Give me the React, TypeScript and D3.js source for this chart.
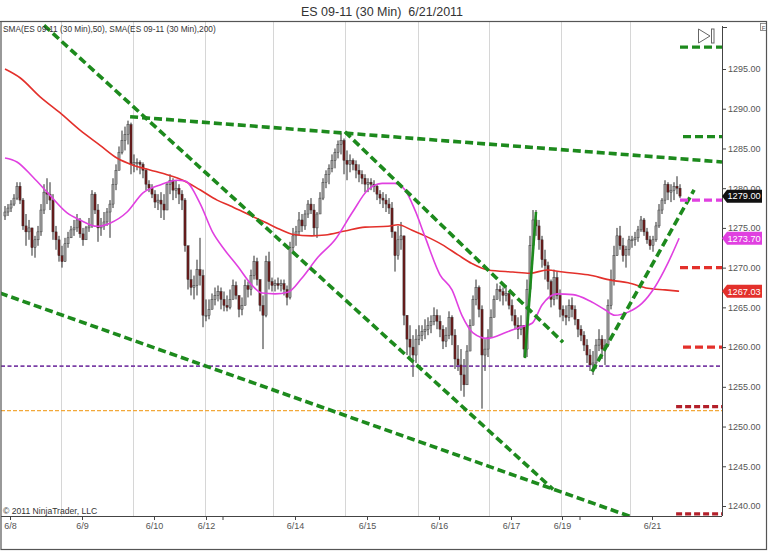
import React, { useEffect, useRef } from 'react'
import * as d3 from 'd3'

const W = 768
const H = 551

const title = 'ES 09-11 (30 Min)  6/21/2011'
const legendText = 'SMA(ES 09-11 (30 Min),50), SMA(ES 09-11 (30 Min),200)'
const copyright = '© 2011 NinjaTrader, LLC'

// price bars (one every bar index), open = previous close
const firstOpen = 1276.5
const closes = [
  1277.0, 1277.5, 1278.0, 1278.75, 1280.25, 1278.5, 1275.25, 1274.5, 1275.0, 1272.5,
  1273.5, 1274.5, 1277.25, 1279.5, 1279.25, 1278.5, 1274.5, 1273.5, 1271.5, 1270.75,
  1273.0, 1273.75, 1274.75, 1275.0, 1276.0, 1274.25, 1273.5, 1275.0, 1275.25, 1279.25,
  1277.25, 1275.0, 1275.25, 1275.75, 1277.0, 1278.0, 1280.5, 1282.25, 1284.5, 1286.0,
  1286.75, 1288.0, 1283.0, 1283.25, 1283.25, 1283.0, 1282.25, 1280.5, 1280.0, 1279.25,
  1278.25, 1278.5, 1278.0, 1277.25, 1280.5, 1281.0, 1279.75, 1280.0, 1279.25, 1278.5,
  1272.75, 1268.5, 1267.5, 1267.75, 1269.75, 1269.0, 1264.0, 1264.0, 1264.75, 1266.0,
  1266.5, 1267.0, 1266.0, 1265.25, 1265.0, 1266.0, 1267.75, 1266.5, 1264.75, 1265.25,
  1267.75, 1267.25, 1269.0, 1270.75, 1268.5, 1265.25, 1264.0, 1270.75, 1268.25, 1267.75,
  1268.0, 1267.75, 1268.0, 1267.25, 1266.25, 1272.5, 1274.0, 1274.5, 1276.0, 1275.25,
  1276.75, 1278.0, 1277.25, 1275.0, 1276.75, 1278.75, 1280.75, 1281.75, 1282.5, 1283.5,
  1284.5, 1285.5, 1286.0, 1283.5, 1283.0, 1283.5, 1283.0, 1282.25, 1281.75, 1281.25,
  1280.5, 1280.75, 1280.5, 1280.25, 1279.25, 1278.75, 1278.5, 1278.0, 1277.5, 1274.5,
  1271.5, 1273.5, 1274.0, 1264.0, 1261.0, 1260.0, 1259.0, 1261.0, 1261.5, 1262.0,
  1262.25, 1262.75, 1263.25, 1264.0, 1263.25, 1262.25, 1260.75, 1261.5, 1263.75, 1261.5,
  1258.5, 1257.75, 1256.5, 1255.25, 1259.5, 1262.75, 1266.0, 1267.5, 1264.75, 1259.0,
  1259.75, 1261.25, 1263.75, 1266.0, 1267.25, 1267.0, 1266.5, 1266.75, 1265.25, 1264.0,
  1262.75, 1262.25, 1262.75, 1259.75, 1267.25, 1272.75, 1276.0, 1275.25, 1273.5, 1271.0,
  1270.25, 1268.25, 1266.0, 1268.75, 1266.5, 1264.75, 1264.0, 1263.75, 1265.25, 1264.75,
  1263.5, 1262.25, 1261.5, 1260.25, 1259.0, 1257.75, 1258.0, 1260.25, 1261.0, 1259.75,
  1260.25, 1265.25, 1268.5, 1271.5, 1274.0, 1272.75, 1271.5, 1272.25, 1273.5, 1273.5,
  1273.75, 1274.75, 1276.0, 1274.5, 1273.5, 1272.75, 1273.5, 1275.25, 1277.25, 1278.5,
  1280.5, 1279.5, 1279.75, 1280.25, 1280.0, 1279.0,
]
const highs = [
  1277.75, 1278.0, 1278.5, 1279.25, 1280.75, 1280.75, 1278.75, 1276.75, 1276.0, 1275.0,
  1274.0, 1275.25, 1278.0, 1280.5, 1281.25, 1280.75, 1279.25, 1275.25, 1274.0, 1272.75,
  1273.75, 1274.5, 1275.25, 1276.0, 1276.75, 1276.25, 1275.0, 1275.25, 1276.25, 1279.75,
  1279.5, 1278.0, 1276.25, 1277.0, 1277.5, 1278.5, 1281.25, 1283.0, 1285.25, 1287.25,
  1287.75, 1288.5, 1288.25, 1284.25, 1283.75, 1283.5, 1283.25, 1282.5, 1281.0, 1280.5,
  1279.75, 1279.25, 1279.5, 1279.25, 1280.75, 1281.75, 1281.25, 1281.0, 1280.5, 1279.75,
  1278.75, 1272.75, 1269.75, 1269.0, 1271.0, 1273.75, 1269.75, 1266.0, 1266.0, 1266.75,
  1267.5, 1267.75, 1267.5, 1267.0, 1266.5, 1267.25, 1268.5, 1268.25, 1266.5, 1266.25,
  1268.5, 1268.25, 1269.75, 1271.5, 1271.25, 1267.75, 1266.5, 1271.5, 1272.0, 1268.75,
  1268.5, 1268.75, 1268.5, 1268.5, 1267.75, 1273.25, 1275.0, 1275.25, 1277.0, 1276.75,
  1277.25, 1278.5, 1278.75, 1278.0, 1277.0, 1279.5, 1281.25, 1282.25, 1283.0, 1284.25,
  1285.0, 1286.0, 1287.0, 1286.25, 1284.75, 1284.25, 1283.75, 1283.5, 1283.0, 1282.25,
  1281.75, 1281.25, 1281.25, 1281.0, 1280.5, 1279.75, 1279.5, 1279.25, 1278.75, 1278.25,
  1274.5, 1275.25, 1275.75, 1274.0, 1264.0, 1262.75, 1261.5, 1262.25, 1262.75, 1262.75,
  1263.5, 1263.75, 1264.0, 1265.0, 1264.75, 1264.0, 1262.75, 1262.5, 1264.5, 1264.0,
  1262.25, 1260.25, 1259.75, 1258.5, 1260.25, 1263.5, 1266.5, 1268.5, 1267.75, 1265.25,
  1261.0, 1262.25, 1264.75, 1266.5, 1268.0, 1267.75, 1267.5, 1267.75, 1267.0, 1266.0,
  1264.75, 1263.75, 1264.0, 1261.5, 1268.5, 1274.0, 1277.25, 1277.25, 1276.0, 1274.0,
  1272.25, 1270.75, 1268.5, 1269.75, 1269.5, 1267.25, 1265.25, 1265.25, 1266.0, 1266.25,
  1265.25, 1263.5, 1262.75, 1262.0, 1261.0, 1259.75, 1259.5, 1261.0, 1262.25, 1261.5,
  1261.0, 1266.0, 1269.75, 1272.75, 1275.0, 1275.25, 1273.75, 1272.75, 1274.0, 1274.0,
  1274.5, 1275.25, 1276.5, 1276.25, 1275.0, 1274.0, 1274.0, 1275.75, 1278.0, 1278.75,
  1281.0, 1280.75, 1280.5, 1280.75, 1281.5, 1280.5,
]
const lows = [
  1276.0, 1276.5, 1277.0, 1277.75, 1278.5, 1278.0, 1274.75, 1272.75, 1273.5, 1271.5,
  1271.25, 1272.75, 1274.0, 1276.75, 1278.0, 1277.25, 1273.5, 1272.25, 1270.75, 1270.0,
  1271.5, 1272.5, 1273.75, 1274.0, 1274.5, 1273.75, 1272.75, 1273.5, 1274.5, 1275.0,
  1276.75, 1273.25, 1274.0, 1274.75, 1275.25, 1273.75, 1277.5, 1279.75, 1282.25, 1284.25,
  1284.75, 1285.5, 1281.75, 1282.0, 1282.25, 1281.75, 1281.25, 1279.75, 1279.5, 1278.75,
  1277.5, 1277.25, 1276.25, 1276.0, 1278.0, 1279.25, 1278.5, 1278.75, 1278.0, 1277.25,
  1272.0, 1267.25, 1266.5, 1266.0, 1266.5, 1267.75, 1262.5, 1263.25, 1263.5, 1264.75,
  1265.25, 1265.75, 1264.75, 1264.5, 1264.5, 1264.75, 1266.0, 1266.0, 1263.75, 1264.0,
  1266.0, 1266.25, 1266.5, 1268.5, 1267.75, 1264.5, 1259.75, 1263.75, 1267.25, 1267.0,
  1267.0, 1267.25, 1267.0, 1266.5, 1265.25, 1266.0, 1272.0, 1272.75, 1274.0, 1274.5,
  1274.75, 1276.25, 1276.75, 1274.0, 1273.75, 1276.75, 1278.5, 1280.0, 1280.5, 1282.0,
  1282.5, 1283.75, 1284.25, 1281.75, 1281.0, 1282.0, 1282.25, 1281.25, 1280.75, 1280.5,
  1279.5, 1279.5, 1279.75, 1279.5, 1278.5, 1278.0, 1277.5, 1277.0, 1276.75, 1273.75,
  1269.5, 1271.0, 1272.25, 1262.75, 1259.0, 1258.75, 1256.25, 1258.0, 1260.25, 1260.75,
  1261.0, 1261.5, 1261.75, 1262.75, 1262.25, 1261.25, 1259.75, 1260.0, 1261.0, 1260.25,
  1257.25, 1257.0, 1254.5, 1253.75, 1255.75, 1259.75, 1262.75, 1265.25, 1263.75, 1252.25,
  1257.0, 1258.75, 1261.5, 1263.75, 1266.0, 1265.75, 1265.25, 1265.75, 1264.75, 1263.25,
  1262.25, 1261.0, 1261.5, 1258.75, 1258.75, 1266.5, 1272.25, 1274.0, 1272.25, 1270.0,
  1268.5, 1267.25, 1265.0, 1265.25, 1266.0, 1263.75, 1263.25, 1262.75, 1263.25, 1263.75,
  1262.75, 1261.25, 1260.75, 1259.5, 1258.0, 1257.0, 1256.5, 1257.25, 1259.5, 1258.5,
  1257.75, 1260.0, 1264.75, 1267.75, 1271.5, 1272.25, 1270.75, 1270.0, 1271.5, 1272.5,
  1272.75, 1273.25, 1274.5, 1274.0, 1273.0, 1272.25, 1272.0, 1273.25, 1275.0, 1276.75,
  1278.0, 1278.5, 1278.25, 1278.5, 1279.25, 1278.75,
]

// moving averages [bar index, price]
const sma50 = [
  [0, 1283.8], [4, 1283.3], [9.3, 1281.4], [15, 1279.1], [20.7, 1276.9], [25, 1276.0],
  [30.7, 1275.2], [35, 1275.6], [40.7, 1277.0], [46, 1279.4], [51.7, 1280.4], [57.3, 1281.0],
  [60, 1280.9], [65, 1278.1], [69.3, 1274.4], [73.3, 1272.2], [77.7, 1270.1], [82.3, 1267.8],
  [85.7, 1266.8], [90, 1266.7], [94.3, 1266.9], [99, 1268.7], [104.3, 1271.3], [110, 1273.5],
  [115.7, 1276.9], [121, 1279.8], [125.7, 1280.6], [130, 1280.6], [133.3, 1279.8], [136.7, 1277.2],
  [140, 1273.9], [145, 1269.1], [149, 1267.2], [152.3, 1264.0], [156, 1261.8], [160.7, 1261.1],
  [167.3, 1261.9], [171.7, 1262.5], [175.7, 1263.0], [179, 1265.3], [184, 1266.7], [189.3, 1266.6],
  [195, 1265.8], [200, 1264.7], [203.3, 1264.0], [207.7, 1264.4], [212.3, 1265.5], [216.7, 1267.6],
  [221, 1270.6], [224.7, 1273.7],
]
const sma200 = [
  [0, 1295.0], [5, 1293.9], [11.7, 1291.5], [18.3, 1289.5], [25, 1287.3], [31.7, 1285.4],
  [37.3, 1283.8], [42.7, 1282.9], [48.3, 1282.3], [54, 1281.7], [59.3, 1281.0], [65, 1279.8],
  [70.7, 1278.5], [75, 1277.8], [80, 1276.9], [86.7, 1275.7], [92.3, 1274.7], [95.7, 1274.2],
  [102.3, 1274.0], [106.7, 1274.1], [113.3, 1274.6], [120, 1275.1], [127.7, 1275.2], [131, 1275.4],
  [135.7, 1274.7], [140, 1274.0], [145.7, 1272.9], [151, 1271.6], [155.7, 1270.5], [161, 1269.7],
  [169.3, 1269.45], [175, 1269.3], [180.7, 1269.7], [186, 1269.45], [194.3, 1269.1], [202.3, 1268.4],
  [207.7, 1268.1], [214.3, 1267.4], [220, 1267.2], [224.7, 1267.03],
]

// drawn objects [bar1, price1, bar2, price2]
const dashedTrends = [
  [13, 1300.5, 182.7, 1242.1],
  [-1.7, 1266.8, 208.3, 1238.7],
  [41.7, 1289.0, 239, 1283.3],
  [113.3, 1287.1, 186, 1260.6],
  [195.7, 1256.9, 229.7, 1279.8],
]
const solidTrends = [[173.3, 1258.6, 177, 1277.0]]
const purpleLevel = 1257.6
const orangeLevel = 1252.0
const greenMarks = [[225, 1297.75], [226, 1286.5]]
const magentaMarks = [[225, 1278.5]]
const redMarks = [[225, 1270.0], [226, 1260.0]]
const darkRedMarks = [[223.7, 1252.5], [223.7, 1239.0]]

const priceTicks = [1240, 1245, 1250, 1255, 1260, 1265, 1270, 1275, 1280, 1285, 1290, 1295]
const dayTicks = [1.67, 25.67, 49.67, 67, 96.67, 120.67, 144.67, 168.67, 185.67, 215.67]
const dayLabels = ['6/8', '6/9', '6/10', '6/12', '6/14', '6/15', '6/16', '6/17', '6/19', '6/21']
const minorTicks = [72.67, 191.67]
const sessionLines = [18.67, 42.67, 66.67, 89.33, 113.33, 137.67, 161.33, 185.33, 208.33]

const FONT = 'Arial, "Liberation Sans", sans-serif'

const App = () => {
  const svgRef = useRef<SVGSVGElement>(null)

  useEffect(() => {
    const svg: any = d3.select(svgRef.current)
    svg.selectAll('*').remove()

    const L = 1, R = 722, T = 22, B = 516
    const x = d3.scaleLinear().domain([0, 239]).range([5, 722])
    const y = d3.scaleLinear().domain([1240, 1295]).range([506, 69])

    svg.append('rect').attr('width', W).attr('height', H).attr('fill', '#fff')

    svg.append('text')
      .attr('x', 382).attr('y', 16)
      .attr('text-anchor', 'middle')
      .attr('font-family', FONT).attr('font-size', 12.5).attr('fill', '#333')
      .attr('xml:space', 'preserve')
      .text(title)

    svg.append('defs').append('clipPath').attr('id', 'plotclip')
      .append('rect').attr('x', L).attr('y', T).attr('width', R - L).attr('height', B - T)

    // session separators
    svg.append('g').selectAll('line').data(sessionLines).join('line')
      .attr('x1', (d: number) => Math.round(x(d)) + 0.5).attr('x2', (d: number) => Math.round(x(d)) + 0.5)
      .attr('y1', T).attr('y2', B)
      .attr('stroke', '#d6d6d6').attr('stroke-width', 1)

    const plot = svg.append('g').attr('clip-path', 'url(#plotclip)')

    // candles
    const bars = closes.map((c, i) => {
      const o = i === 0 ? firstOpen : closes[i - 1]
      return { i, o, c, h: Math.max(highs[i], o, c), l: Math.min(lows[i], o, c) }
    })
    const cg = plot.append('g')
    cg.selectAll('line').data(bars).join('line')
      .attr('x1', (d: any) => x(d.i)).attr('x2', (d: any) => x(d.i))
      .attr('y1', (d: any) => y(d.h)).attr('y2', (d: any) => y(d.l))
      .attr('stroke', '#2a2a2a').attr('stroke-width', 1)
    cg.selectAll('rect').data(bars).join('rect')
      .attr('x', (d: any) => x(d.i) - 1.1)
      .attr('width', 2.2)
      .attr('y', (d: any) => y(Math.max(d.o, d.c)))
      .attr('height', (d: any) => Math.max(1, Math.abs(y(d.o) - y(d.c))))
      .attr('fill', (d: any) => (d.c >= d.o ? '#9a9a9a' : '#6b1b1b'))
      .attr('stroke', '#2a2a2a').attr('stroke-width', 0.4)

    // moving averages
    const line = d3.line<number[]>().x(d => x(d[0])).y(d => y(d[1])).curve(d3.curveMonotoneX)
    plot.append('path').attr('d', line(sma200 as any))
      .attr('fill', 'none').attr('stroke', '#e3302b').attr('stroke-width', 1.6)
    plot.append('path').attr('d', line(sma50 as any))
      .attr('fill', 'none').attr('stroke', '#e040e0').attr('stroke-width', 1.6)

    // horizontal levels
    plot.append('line')
      .attr('x1', L).attr('x2', R).attr('y1', y(purpleLevel)).attr('y2', y(purpleLevel))
      .attr('stroke', '#7b3fa6').attr('stroke-width', 1.6).attr('stroke-dasharray', '4,2.5')
    plot.append('line')
      .attr('x1', L).attr('x2', R).attr('y1', y(orangeLevel)).attr('y2', y(orangeLevel))
      .attr('stroke', '#f2a83a').attr('stroke-width', 1.2).attr('stroke-dasharray', '4,2')

    // trend lines
    plot.append('g').selectAll('line').data(dashedTrends).join('line')
      .attr('x1', (d: number[]) => x(d[0])).attr('y1', (d: number[]) => y(d[1]))
      .attr('x2', (d: number[]) => x(d[2])).attr('y2', (d: number[]) => y(d[3]))
      .attr('stroke', '#1d8a1d').attr('stroke-width', 3.6).attr('stroke-dasharray', '8,4')
    plot.append('g').selectAll('line').data(solidTrends).join('line')
      .attr('x1', (d: number[]) => x(d[0])).attr('y1', (d: number[]) => y(d[1]))
      .attr('x2', (d: number[]) => x(d[2])).attr('y2', (d: number[]) => y(d[3]))
      .attr('stroke', '#1d8a1d').attr('stroke-width', 2.6)

    // right side markers
    const marks = (data: number[][], color: string, dash: string) =>
      plot.append('g').selectAll('line').data(data).join('line')
        .attr('x1', (d: number[]) => x(d[0])).attr('x2', R)
        .attr('y1', (d: number[]) => y(d[1])).attr('y2', (d: number[]) => y(d[1]))
        .attr('stroke', color).attr('stroke-width', 3.2).attr('stroke-dasharray', dash)
    marks(greenMarks, '#1d8a1d', '8,4')
    marks(magentaMarks, '#e040e0', '8,4')
    marks(redMarks, '#e3302b', '8,4')
    marks(darkRedMarks, '#b3202a', '6,3')

    // y axis
    const gy = svg.append('g').attr('transform', `translate(${R},0)`)
      .call(d3.axisRight(y).tickValues(priceTicks).tickFormat(d3.format('.2f') as any).tickSize(4).tickPadding(2).tickSizeOuter(0))
    gy.select('.domain').remove()
    gy.selectAll('line').attr('stroke', '#444')
    gy.selectAll('text').attr('font-family', FONT).attr('font-size', 9).attr('fill', '#555')
    svg.append('line').attr('x1', R + 0.5).attr('x2', R + 0.5).attr('y1', 26).attr('y2', B)
      .attr('stroke', '#444').attr('stroke-width', 1)
    svg.append('line').attr('x1', R).attr('x2', R + 5).attr('y1', 27.5).attr('y2', 27.5)
      .attr('stroke', '#444').attr('stroke-width', 1)

    // x axis
    const gx = svg.append('g').attr('transform', `translate(0,${B})`)
      .call(d3.axisBottom(x).tickValues(dayTicks).tickFormat((_d: any, i: number) => dayLabels[i]).tickSize(4).tickPadding(3).tickSizeOuter(0))
    gx.select('.domain').remove()
    gx.selectAll('line').attr('stroke', '#444')
    gx.selectAll('text').attr('font-family', FONT).attr('font-size', 9).attr('fill', '#555')
    svg.append('g').selectAll('line').data(minorTicks).join('line')
      .attr('x1', (d: number) => x(d)).attr('x2', (d: number) => x(d))
      .attr('y1', B).attr('y2', B + 4).attr('stroke', '#444')
    svg.append('line').attr('x1', L).attr('x2', R).attr('y1', B + 0.5).attr('y2', B + 0.5)
      .attr('stroke', '#444').attr('stroke-width', 1)

    // price badges
    const badge = (v: number, fill: string) => {
      const cy = y(v)
      svg.append('path')
        .attr('d', `M${R},${cy} L${R + 5},${cy - 6.5} H${W - 6} V${cy + 6.5} H${R + 5} Z`)
        .attr('fill', fill)
      svg.append('text')
        .attr('x', R + 5.5).attr('y', cy + 3.3)
        .attr('font-family', FONT).attr('font-size', 9.2).attr('fill', '#fff')
        .text(d3.format('.2f')(v))
    }
    badge(closes[closes.length - 1], '#111')
    badge(sma50[sma50.length - 1][1], '#e040e0')
    badge(sma200[sma200.length - 1][1], '#e3302b')

    // labels
    svg.append('text').attr('x', 3).attr('y', 32)
      .attr('font-family', FONT).attr('font-size', 8.3).attr('fill', '#333')
      .text(legendText)
    svg.append('text').attr('x', 3).attr('y', 514)
      .attr('font-family', FONT).attr('font-size', 8.6).attr('fill', '#333')
      .text(copyright)

    // toolbar glyphs
    svg.append('path').attr('d', 'M698.5,29 L698.5,43 L710,36 Z')
      .attr('fill', 'none').attr('stroke', '#666').attr('stroke-width', 1)
    svg.append('rect').attr('x', 711.5).attr('y', 29).attr('width', 2.5).attr('height', 14)
      .attr('fill', 'none').attr('stroke', '#666').attr('stroke-width', 1)
    svg.append('rect').attr('x', 760.5).attr('y', 23.5).attr('width', 6).attr('height', 7)
      .attr('fill', '#fff').attr('stroke', '#777').attr('stroke-width', 0.8)
    svg.append('text').attr('x', 761.8).attr('y', 29.5)
      .attr('font-family', FONT).attr('font-size', 6).attr('fill', '#555').text('F')

    // frame
    svg.append('line').attr('x1', 0).attr('x2', 767).attr('y1', 21.5).attr('y2', 21.5)
      .attr('stroke', '#555').attr('stroke-width', 1.2)
    svg.append('rect').attr('x', 1).attr('y', 21.5).attr('width', 765.5).attr('height', 528)
      .attr('fill', 'none').attr('stroke', '#555').attr('stroke-width', 1.2)
  }, [])

  return (
    <svg
      ref={svgRef}
      width={W}
      height={H}
      style={{ position: 'absolute', left: 0, top: 0, display: 'block' }}
    />
  )
}

export default App
